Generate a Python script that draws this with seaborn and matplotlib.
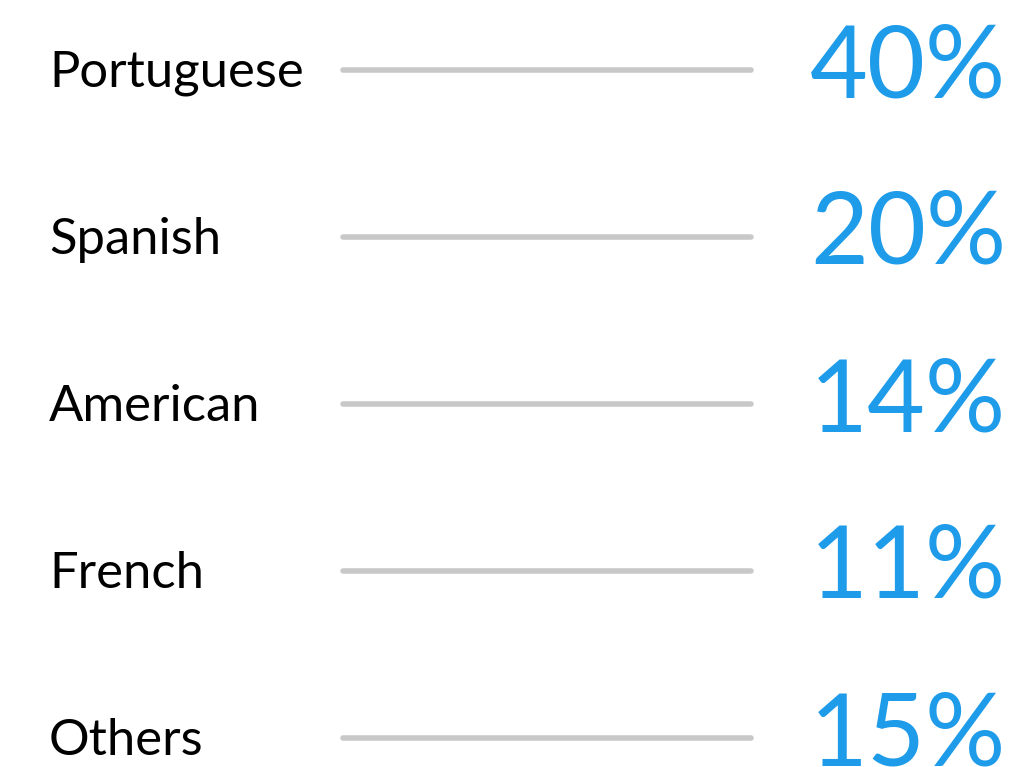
import matplotlib
matplotlib.use("Agg")
import matplotlib.pyplot as plt
import seaborn as sns
import pandas as pd

categories = ['Portuguese', 'Spanish', 'American', 'French', 'Others']
shares = [40, 20, 14, 11, 15]

sns.set_theme(style='white')
plt.rcParams['font.family'] = ['Lato', 'DejaVu Sans']

# layout in pixel units of the 1026x767 canvas
row_y = [70 + i * 167 for i in range(len(categories))]
line_x0, line_x1 = 343, 751

rows = []
for cat, y in zip(categories, row_y):
    rows.append({'category': cat, 'x': line_x0, 'y': y})
    rows.append({'category': cat, 'x': line_x1, 'y': y})
df = pd.DataFrame(rows)

fig = plt.figure(figsize=(10.26, 7.67), dpi=100)
ax = fig.add_axes([0, 0, 1, 1])

sns.lineplot(data=df, x='x', y='y', units='category', estimator=None,
             color='#c8c8c8', linewidth=4, solid_capstyle='round',
             legend=False, ax=ax)

for cat, val, y in zip(categories, shares, row_y):
    ax.text(49, y + 17, cat, fontsize=36.5, color='black',
            ha='left', va='baseline')
    # the last value runs off the bottom edge, as in the original
    ax.text(810, y + 27, f'{val}%', fontsize=72, color='#1e9be9',
            ha='left', va='baseline')

ax.set_xlim(0, 1026)
ax.set_ylim(767, 0)
ax.axis('off')

fig.savefig('out.png', dpi=100)
